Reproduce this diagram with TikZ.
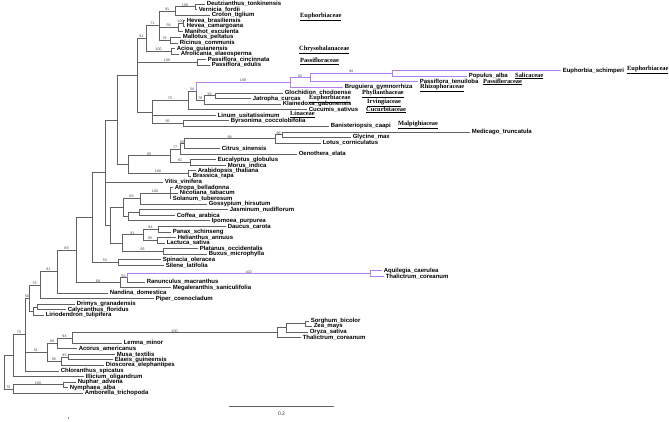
\documentclass[tikz,border=0pt]{standalone}
\usepackage{fontspec}
\setmainfont{Liberation Serif}
\setsansfont{Liberation Sans}
\usetikzlibrary{calc}
\definecolor{brc}{gray}{0.38}
\definecolor{puc}{RGB}{180,128,240}
\tikzset{
  edge/.style={draw=brc, line width=0.75pt},
  pedge/.style={draw=puc, line width=0.9pt},
  leaf/.style={anchor=west, inner xsep=1.6pt, inner ysep=0pt, text=black, font=\sffamily\bfseries\fontsize{6}{6.5}\selectfont},
  fam/.style={anchor=west, inner sep=0pt, font=\rmfamily\bfseries\fontsize{6.4}{7}\selectfont},
  blab/.style={anchor=south, inner sep=0.4pt, text=black!75, font=\sffamily\fontsize{3.6}{4}\selectfont},
}
\newcommand\tn[4]{\coordinate (#1m) at ($(#3)!.5!(#4)$);\coordinate (#1) at (#2,0 |- #1m);}
\newcommand\ed[3][edge]{\draw[#1] (#2) |- (#3);}
\newcommand\lb[3]{\path (#1 |- #2) coordinate (#2s);\node[blab] (#2t) at ($(#2s)!.5!(#2)$) {#3};}
\begin{document}
\begin{tikzpicture}[x=1pt,y=-1pt]
\fill[white] (0,0) rectangle (669,422);
\useasboundingbox (0,0) rectangle (669,422);
% leaves
\node[leaf] (L1) at (205,4.00) {Deutzianthus\_tonkinensis};
\node[leaf] (L2) at (197,9.56) {Vernicia\_fordii};
\node[leaf] (L3) at (210,15.12) {Croton\_tiglium};
\node[leaf] (L4) at (185,20.68) {Hevea\_brasiliensis};
\node[leaf] (L5) at (185,26.24) {Hevea\_camargoana};
\node[leaf] (L6) at (183,31.80) {Manihot\_esculenta};
\node[leaf] (L7) at (181,37.36) {Mallotus\_peltatus};
\node[leaf] (L8) at (178,42.92) {Ricinus\_communis};
\node[leaf] (L9) at (175,48.48) {Acioa\_guianensis};
\node[leaf] (L10) at (179,54.04) {Afrolicania\_elaeosperma};
\node[leaf] (L11) at (206,59.60) {Passiflora\_cincinnata};
\node[leaf] (L12) at (210,65.16) {Passiflora\_edulis};
\node[leaf] (L13) at (561,70.72) {Euphorbia\_schimperi};
\node[leaf] (L14) at (467,76.28) {Populus\_alba};
\node[leaf] (L15) at (418,81.84) {Passiflora\_tenuiloba};
\node[leaf] (L16) at (343,87.40) {Bruguiera\_gymnorrhiza};
\node[leaf] (L17) at (283,92.96) {Glochidion\_chodoense};
\node[leaf] (L18) at (251,98.52) {Jatropha\_curcas};
\node[leaf] (L19) at (281,104.08) {Klainedoxa\_gabonensis};
\node[leaf] (L20) at (307,109.64) {Cucumis\_sativus};
\node[leaf] (L21) at (216,115.20) {Linum\_usitatissimum};
\node[leaf] (L22) at (229,120.76) {Byrsonima\_coccolobifolia};
\node[leaf] (L23) at (329,126.32) {Banisteriopsis\_caapi};
\node[leaf] (L24) at (470,131.88) {Medicago\_truncatula};
\node[leaf] (L25) at (351,137.44) {Glycine\_max};
\node[leaf] (L26) at (321,143.00) {Lotus\_corniculatus};
\node[leaf] (L27) at (220,148.56) {Citrus\_sinensis};
\node[leaf] (L28) at (297,154.12) {Oenothera\_elata};
\node[leaf] (L29) at (216,159.68) {Eucalyptus\_globulus};
\node[leaf] (L30) at (226,165.24) {Morus\_indica};
\node[leaf] (L31) at (196,170.80) {Arabidopsis\_thaliana};
\node[leaf] (L32) at (191,176.36) {Brassica\_rapa};
\node[leaf] (L33) at (163,181.92) {Vitis\_vinifera};
\node[leaf] (L34) at (173,187.48) {Atropa\_belladonna};
\node[leaf] (L35) at (178,193.04) {Nicotiana\_tabacum};
\node[leaf] (L36) at (171,198.60) {Solanum\_tuberosum};
\node[leaf] (L37) at (207,204.16) {Gossypium\_hirsutum};
\node[leaf] (L38) at (228,209.72) {Jasminum\_nudiflorum};
\node[leaf] (L39) at (175,215.28) {Coffea\_arabica};
\node[leaf] (L40) at (210,220.84) {Ipomoea\_purpurea};
\node[leaf] (L41) at (226,226.40) {Daucus\_carota};
\node[leaf] (L42) at (171,231.96) {Panax\_schinseng};
\node[leaf] (L43) at (176,237.52) {Helianthus\_annuus};
\node[leaf] (L44) at (165,243.08) {Lactuca\_sativa};
\node[leaf] (L45) at (198,248.64) {Platanus\_occidentalis};
\node[leaf] (L46) at (207,254.20) {Buxus\_microphylla};
\node[leaf] (L47) at (161,259.76) {Spinacia\_oleracea};
\node[leaf] (L48) at (164,265.32) {Silene\_latifolia};
\node[leaf] (L49) at (382,270.88) {Aquilegia\_caerulea};
\node[leaf] (L50) at (384,276.44) {Thalictrum\_coreanum};
\node[leaf] (L51) at (145,282.00) {Ranunculus\_macranthus};
\node[leaf] (L52) at (171,287.56) {Megaleranthis\_saniculifolia};
\node[leaf] (L53) at (108,293.12) {Nandina\_domestica};
\node[leaf] (L54) at (154,298.68) {Piper\_coenocladum};
\node[leaf] (L55) at (75,304.24) {Drimys\_granadensis};
\node[leaf] (L56) at (66,309.80) {Calycanthus\_floridus};
\node[leaf] (L57) at (44,315.36) {Liriodendron\_tulipifera};
\node[leaf] (L58) at (309,320.92) {Sorghum\_bicolor};
\node[leaf] (L59) at (312,326.48) {Zea\_mays};
\node[leaf] (L60) at (308,332.04) {Oryza\_sativa};
\node[leaf] (L61) at (301,337.60) {Thalictrum\_coreanum};
\node[leaf] (L62) at (122,343.16) {Lemna\_minor};
\node[leaf] (L63) at (77,348.72) {Acorus\_americanus};
\node[leaf] (L64) at (115,354.28) {Musa\_textilis};
\node[leaf] (L65) at (113,359.84) {Elaeis\_guineensis};
\node[leaf] (L66) at (104,365.40) {Dioscorea\_elephantipes};
\node[leaf] (L67) at (59,370.96) {Chloranthus\_spicatus};
\node[leaf] (L68) at (84,376.52) {Illicium\_oligandrum};
\node[leaf] (L69) at (76,382.08) {Nuphar\_advena};
\node[leaf] (L70) at (68,387.64) {Nymphaea\_alba};
\node[leaf] (L71) at (83,393.20) {Amborella\_trichopoda};
% internal nodes
\tn{a100}{195}{L1}{L2}
\tn{a91}{175}{a100}{L3}
\tn{b100}{183}{L4}{L5}
\tn{b58}{178}{b100}{L6}
\tn{e76}{170}{L7}{L8}
\tn{e71}{159}{a91}{e76}
\tn{chr}{171}{L9}{L10}
\tn{e91}{146}{e71}{chr}
\tn{pas}{197}{L11}{L12}
\tn{p94}{392}{L13}{L14}
\tn{p92}{310}{p94}{L15}
\tn{p100}{290}{p92}{L16}
\tn{g93}{215}{L17}{L18}
\tn{g79}{204}{g93}{L19}
\tn{g54}{196}{p100}{g79}
\tn{g75}{188}{g54}{L20}
\tn{m95}{183}{L22}{L23}
\tn{m152}{152}{g75}{m95}
\tn{m137}{137}{e91}{m152}
\tn{l99a}{282}{L24}{L25}
\tn{l99b}{275}{l99a}{L26}
\tn{l56}{184}{l99b}{L27}
\tn{l77}{180}{l56}{L28}
\tn{l91}{190}{L29}{L30}
\tn{l85}{170}{l77}{l91}
\tn{ab}{188}{L31}{L32}
\tn{r128}{128}{l85}{ab}
\tn{r117}{117}{m137}{r128}
\tn{sol}{170}{L34}{L36}
\tn{s66}{140}{sol}{L37}
\tn{jc}{139}{L38}{L39}
\tn{jci}{128}{jc}{L40}
\tn{s123}{123}{s66}{jci}
\tn{dp}{158}{L41}{L42}
\tn{hl}{157}{L43}{L44}
\tn{s143}{143}{dp}{hl}
\tn{pb}{163}{L45}{L46}
\tn{s122}{122}{s143}{pb}
\tn{s110}{110}{s123}{s122}
\tn{v105}{105}{r117}{s110}
\tn{car}{118}{L47}{L48}
\tn{core}{92}{v105}{car}
\tn{aq}{370}{L49}{L50}
\tn{ra56}{127}{aq}{L51}
\tn{ra68}{120}{ra56}{L52}
\tn{c89}{76}{core}{ra68}
\tn{c91}{57}{c89}{L53}
\tn{c76}{40}{c91}{L54}
\tn{dc}{37}{L55}{L56}
\tn{mag}{33}{dc}{L57}
\tn{c56}{29}{c76}{mag}
\tn{sz}{305}{L58}{L59}
\tn{szo}{286}{sz}{L60}
\tn{gr}{277}{szo}{L61}
\tn{mo94}{72}{gr}{L62}
\tn{mo80}{57}{mo94}{L63}
\tn{mu95}{68}{L64}{L65}
\tn{mu95b}{61}{mu95}{L66}
\tn{mo51}{47}{mo80}{mu95b}
\tn{c75}{25}{c56}{L67}
\tn{nx}{13}{c75}{L68}
\tn{nn}{63}{L69}{L70}
\tn{ny}{13}{nn}{L71}
\tn{root}{4}{nx}{ny}
% edges
\ed{a100}{L1.west} \ed{a100}{L2.west}
\ed{a91}{a100} \ed{a91}{L3.west}
\ed{b100}{L4.west} \ed{b100}{L5.west}
\ed{b58}{b100} \ed{b58}{L6.west}
\ed{e76}{L7.west} \ed{e76}{L8.west}
\ed{e71}{a91} \ed{e71}{b58} \ed{e71}{e76}
\ed{chr}{L9.west} \ed{chr}{L10.west}
\ed{e91}{e71} \ed{e91}{chr}
\ed{pas}{L11.west} \ed{pas}{L12.west}
\ed{g93}{L17.west} \ed{g93}{L18.west} \ed{g79}{g93} \ed{g79}{L19.west} \ed{g54}{g79}
\ed{g75}{g54} \ed{g75}{L20.west}
\ed{m95}{L22.west} \ed{m95}{L23.west}
\ed{m152}{g75} \ed{m152}{L21.west} \ed{m152}{m95}
\ed{m137}{e91} \ed{m137}{pas} \ed{m137}{m152}
\ed{l99a}{L24.west} \ed{l99a}{L25.west} \ed{l99b}{l99a} \ed{l99b}{L26.west}
\ed{l56}{l99b} \ed{l56}{L27.west} \ed{l77}{l56} \ed{l77}{L28.west}
\ed{l91}{L29.west} \ed{l91}{L30.west} \ed{l85}{l77} \ed{l85}{l91}
\ed{ab}{L31.west} \ed{ab}{L32.west} \ed{r128}{l85} \ed{r128}{ab}
\ed{r117}{m137} \ed{r117}{r128}
\ed{sol}{L34.west} \ed{sol}{L35.west} \ed{sol}{L36.west}
\ed{s66}{sol} \ed{s66}{L37.west}
\ed{jc}{L38.west} \ed{jc}{L39.west} \ed{jci}{jc} \ed{jci}{L40.west}
\ed{s123}{s66} \ed{s123}{jci}
\ed{dp}{L41.west} \ed{dp}{L42.west} \ed{hl}{L43.west} \ed{hl}{L44.west}
\ed{s143}{dp} \ed{s143}{hl} \ed{pb}{L45.west} \ed{pb}{L46.west}
\ed{s122}{s143} \ed{s122}{pb} \ed{s110}{s123} \ed{s110}{s122}
\ed{v105}{r117} \ed{v105}{L33.west} \ed{v105}{s110}
\ed{car}{L47.west} \ed{car}{L48.west}
\ed{core}{v105} \ed{core}{car}
\ed{ra56}{L51.west} \ed{ra68}{ra56} \ed{ra68}{L52.west}
\ed{c89}{core} \ed{c89}{ra68}
\ed{c91}{c89} \ed{c91}{L53.west}
\ed{c76}{c91} \ed{c76}{L54.west}
\ed{dc}{L55.west} \ed{dc}{L56.west} \ed{mag}{dc} \ed{mag}{L57.west}
\ed{c56}{c76} \ed{c56}{mag}
\ed{sz}{L58.west} \ed{sz}{L59.west} \ed{szo}{sz} \ed{szo}{L60.west} \ed{gr}{szo} \ed{gr}{L61.west}
\ed{mo94}{gr} \ed{mo94}{L62.west} \ed{mo80}{mo94} \ed{mo80}{L63.west}
\ed{mu95}{L64.west} \ed{mu95}{L65.west} \ed{mu95b}{mu95} \ed{mu95b}{L66.west}
\ed{mo51}{mo80} \ed{mo51}{mu95b}
\ed{c75}{c56} \ed{c75}{mo51} \ed{c75}{L67.west}
\ed{nx}{c75} \ed{nx}{L68.west}
\ed{nn}{L69.west} \ed{nn}{L70.west}
\ed{ny}{nn} \ed{ny}{L71.west}
\ed{root}{nx} \ed{root}{ny}
% purple edges
\ed[pedge]{p94}{L13.west} \ed[pedge]{p94}{L14.west} \ed[pedge]{p92}{p94} \ed[pedge]{p92}{L15.west}
\ed[pedge]{p100}{p92} \ed[pedge]{p100}{L16.west} \ed[pedge]{g54}{p100}
\ed[pedge]{aq}{L49.west} \ed[pedge]{aq}{L50.west} \ed[pedge]{ra56}{aq}
% branch labels
\lb{a91}{a100}{100} \lb{e71}{a91}{91} \lb{b58}{b100}{100} \lb{e71}{b58}{58} \lb{e71}{e76}{76}
\lb{e91}{e71}{71} \lb{m137}{e91}{91} \lb{e91}{chr}{100} \lb{m137}{pas}{100}
\lb{p92}{p94}{94} \lb{p100}{p92}{92} \lb{g54}{p100}{100} \lb{g79}{g93}{93} \lb{g54}{g79}{79}
\lb{g75}{g54}{54} \lb{m152}{g75}{75} \lb{m152}{m95}{95}
\lb{l99b}{l99a}{99} \lb{l56}{l99b}{99} \lb{l77}{l56}{56} \lb{l85}{l77}{77} \lb{l85}{l91}{91}
\lb{r128}{l85}{85} \lb{r128}{ab}{100}
\lb{s66}{sol}{100} \lb{s123}{s66}{66} \lb{s143}{dp}{94} \lb{s143}{hl}{95} \lb{s122}{s143}{91}
\lb{s122}{pb}{66} \lb{core}{car}{55}
\lb{ra56}{aq}{100} \lb{ra68}{ra56}{56} \lb{c89}{ra68}{68} \lb{c91}{c89}{89} \lb{c76}{c91}{91}
\lb{c56}{c76}{76} \lb{c75}{c56}{56}
\lb{mo94}{gr}{100} \lb{mo80}{mo94}{94} \lb{mo51}{mo80}{80} \lb{c75}{mo51}{51}
\lb{mo51}{mu95b}{95} \lb{mu95b}{mu95}{95} \lb{nx}{c75}{75} \lb{ny}{nn}{100} \lb{root}{ny}{75}
% family labels
\node[fam] (f1) at (300,17) {\underline{Euphorbiaceae}};
\node[fam] (f2) at (299,50) {\underline{Chrysobalanaceae}};
\node[fam] (f3) at (300,61.5) {\underline{Passifloraceae}};
\node[fam] (f4) at (627,70) {\underline{Euphorbiaceae}};
\node[fam] (f5) at (515,76) {\underline{Salicaceae}};
\node[fam] (f6) at (483,82) {\underline{Passifloraceae}};
\node[fam] (f7) at (420,88) {\underline{Rhizophoraceae}};
\node[fam] (f8) at (362,93.5) {\underline{Phyllanthaceae}};
\node[fam] (f9) at (309,99) {\underline{Euphorbiaceae}};
\node[fam] (f10) at (367,102.5) {\underline{Irvingiaceae}};
\node[fam] (f11) at (366,110) {\underline{Cucurbitaceae}};
\node[fam] (f12) at (290,114.5) {\underline{Linaceae}};
\node[fam] (f13) at (398,124.5) {\underline{Malpighiaceae}};
% scale bar
\coordinate (sb1) at (229,406);
\coordinate (sb2) at (334,406);
\draw[edge] (sb1) -- (sb2);
\node[font=\sffamily\fontsize{5}{6}\selectfont, text=black!80] (sbt) at ($(sb1)!.5!(sb2)+(0,8)$) {0.2};
\coordinate (tk) at (68,417);
\draw[black!45, line width=0.4pt] (tk) -- ++(0,2);
\end{tikzpicture}
\end{document}
